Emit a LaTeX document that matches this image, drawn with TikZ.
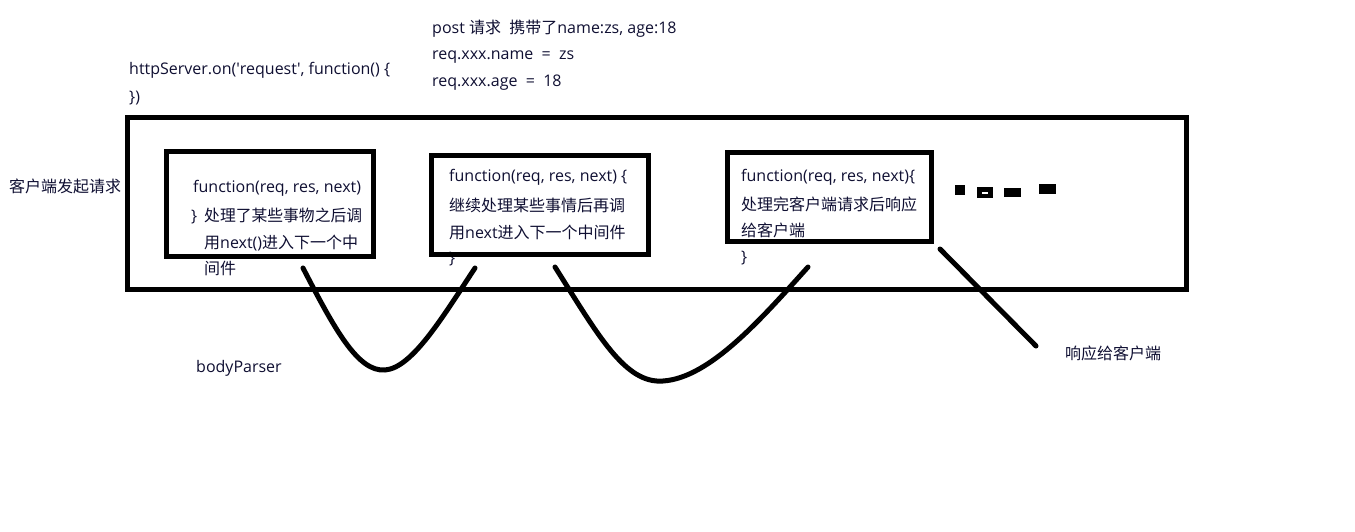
\documentclass[tikz,border=0pt]{standalone}
\usepackage{fontspec}
\usepackage{graphicx}
\setmainfont{Open Sans}
\newfontfamily\plainfont{Open Sans}
\newfontfamily\cjk{Noto Sans CJK SC}
\newcommand{\zh}[1]{{\cjk #1}}
\newcommand{\apos}{{\plainfont '}}
\newcommand{\fitw}[2]{\resizebox{#1}{\height}{#2}}
\definecolor{txt}{RGB}{15,15,50}
\tikzset{
  lbl/.style={anchor=west, inner sep=0pt, text=txt, font=\fontsize{16}{19}\selectfont},
  frame/.style={draw=black, line width=5pt},
  wire/.style={draw=black, line width=5pt, line cap=round},
  blob/.style={fill=black, draw=none}
}
\begin{document}
\begin{tikzpicture}[x=1pt,y=-1pt]
\useasboundingbox (0,0) rectangle (1355,532);
% top texts
\node[lbl] (t1) at (432,29) {post \zh{请求}\ \ \zh{携带了}name:zs, age:18};
\node[lbl] (t2) at (432,57) {req.xxx.name\ \ =\ \ zs};
\node[lbl] (t3) at (432,83) {req.xxx.age\ \ =\ \ 18};
\node[lbl] (h1) at (129,70) {httpServer.on(\apos request\apos, function() \{};
\node[lbl] (h2) at (129,98) {\})};
\node[lbl] (client) at (9,186) {\zh{客户端发起请求}};
% box texts
\node[lbl] (a1) at (193,188) {function(req, res, next)};
\node[lbl] (a2) at (191,216) {\makebox[13pt][l]{\}}\fitw{158pt}{\zh{处理了某些事物之后调}}};
\node[lbl] (a3) at (204,243) {\zh{用}next()\zh{进入下一个中}};
\node[lbl] (a4) at (204,268) {\zh{间件}};
\node[lbl] (b1) at (449,177) {function(req, res, next) \{};
\node[lbl] (b2) at (449,205) {\zh{继续处理某些事情后再调}};
\node[lbl] (b3) at (449,232) {\zh{用}next\zh{进入下一个中间件}};
\node[lbl] (b4) at (449,259) {\}};
\node[lbl] (c1) at (741,177) {function(req, res, next)\{};
\node[lbl] (c2) at (741,204) {\zh{处理完客户端请求后响应}};
\node[lbl] (c3) at (741,230) {\zh{给客户端}};
\node[lbl] (c4) at (741,258) {\}};
\node[lbl] (bp) at (196,368) {bodyParser};
\node[lbl] (resp) at (1065,353) {\zh{响应给客户端}};
% frames
\draw[frame] (127,118) rectangle (1186,289);
\draw[frame] (166,152) rectangle (373,256);
\draw[frame] (431,156) rectangle (648,254);
\draw[frame] (727,153) rectangle (931,241);
% dots
\fill[blob] (955,185) rectangle (965,195);
\fill[blob] (977,187) rectangle (993,198);
\fill[white] (982,192) rectangle (988,194);
\fill[blob] (1004,188) rectangle (1021,197);
\fill[blob] (1039,184) rectangle (1056,194);
% wires
\coordinate (w1s) at (303,268);
\coordinate (w1b) at (385,370);
\coordinate (w1e) at (475,268);
\coordinate (w2s) at (555,267);
\coordinate (w2b) at (663,381);
\coordinate (w2e) at (808,267);
\coordinate (w3s) at (940,249);
\coordinate (w3e) at (1036,346);
\draw[wire] (w1s) .. controls (335,330) and (358,372) .. (w1b) .. controls (412,368) and (442,318) .. (w1e);
\draw[wire] (w2s) .. controls (598,335) and (625,384) .. (w2b) .. controls (710,378) and (762,318) .. (w2e);
\draw[wire] (w3s) -- (w3e);
\end{tikzpicture}
\end{document}
